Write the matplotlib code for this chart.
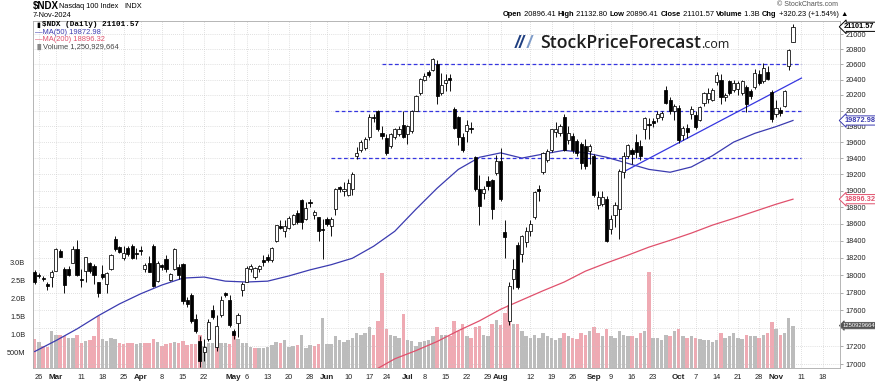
import matplotlib
matplotlib.use("Agg")
import matplotlib.pyplot as plt
import pandas as pd

plt.rcParams['font.family'] = ['Liberation Sans', 'DejaVu Sans']

W, H = 875, 385

# trading days shown (Feb 23 .. Nov 7 plus blank future days)
holidays = pd.to_datetime(['2024-03-29', '2024-05-27', '2024-06-19', '2024-07-04', '2024-09-02'])
days = pd.bdate_range('2024-02-23', '2024-11-29')
days = days[~days.isin(holidays)]

prev_close = 17937

opens = [
    18040, 18000, 17965, 17895, 17975,  # Feb
    18050, 18280, 18075, 18075, 18145, 18300, 17960, 18050, 18140, 18100, 17915, 18010, 17895, 18070, 18425, 18330, 18195, 18320, 18340, 18260,  # Mar
    18290, 18070, 18145, 18340, 17930, 18115, 18190, 17945, 18070, 18090, 18130, 17710, 17770, 17500, 17260, 17130, 17280, 17600, 17185, 17540, 17790, 17710,  # Apr
    17370, 17460, 17830, 17925, 18070, 17975, 18075, 18170, 18215, 18175, 18400, 18570, 18510, 18555, 18600, 18730, 18890, 18655, 18860, 18700, 18680, 18540,  # May
    18655, 18575, 18775, 19050, 18995, 18950, 19015, 19430, 19500, 19520, 19660, 19920, 19990, 19720, 19650, 19550, 19670, 19700, 19810,  # Jun
    19700, 19740, 20000, 20220, 20400, 20500, 20530, 20600, 20220, 20360, 20420, 20020, 19920, 19670, 19740, 19780, 19410, 19015, 18970, 19120, 19130, 19210,  # Jul
    19370, 18500, 17480, 17955, 18350, 18240, 18380, 18520, 18680, 19020, 19230, 19380, 19500, 19730, 19720, 19920, 19620, 19680, 19610, 19570, 19550, 19490,  # Aug
    19430, 18820, 18840, 18895, 18540, 18700, 18780, 19230, 19420, 19500, 19600, 19550, 19770, 19830, 19860, 19910, 19920, 20270, 20140, 19990,  # Sep
    20030, 19690, 19780, 19960, 19940, 19880, 20100, 20150, 20140, 20370, 20390, 20180, 20380, 20260, 20280, 20220, 20310, 20250, 20300, 20470, 20380, 20500, 20240,  # Oct
    19960, 20010, 20060, 20580, 20896.41,  # Nov
]
highs = [
    18060, 18020, 17990, 17925, 18060,
    18320, 18300, 18090, 18105, 18340, 18405, 18070, 18215, 18155, 18125, 17925, 18115, 18030, 18245, 18455, 18340, 18340, 18340, 18360, 18320,
    18340, 18140, 18225, 18360, 18160, 18130, 18230, 18020, 18320, 18130, 18140, 17750, 17800, 17560, 17310, 17280, 17500, 17660, 17540, 17760, 17810, 17770,
    17390, 17570, 17915, 18110, 18130, 18090, 18115, 18230, 18240, 18330, 18590, 18650, 18640, 18690, 18720, 18760, 18900, 18860, 18900, 18760, 18680, 18655,
    18680, 18680, 19030, 19060, 19100, 19140, 19230, 19540, 19620, 19660, 19960, 19960, 20010, 19800, 19700, 19720, 19780, 19800, 20000,
    19820, 20010, 20200, 20420, 20480, 20530, 20690, 20660, 20480, 20470, 20470, 20050, 19930, 19720, 19880, 19850, 19430, 19190, 19060, 19180, 19140, 19440,
    19525, 18640, 17920, 18185, 18380, 18470, 18560, 18650, 18990, 19070, 19470, 19510, 19770, 19850, 19830, 19950, 19800, 19720, 19640, 19600, 19640, 19580,
    19450, 18990, 18990, 18930, 18700, 18860, 19260, 19470, 19580, 19520, 19700, 19630, 19920, 19900, 19900, 19990, 20000, 20320, 20170, 20090,
    20070, 19800, 19830, 20060, 20000, 20060, 20240, 20290, 20290, 20500, 20470, 20230, 20400, 20400, 20380, 20400, 20330, 20280, 20540, 20520, 20620, 20580, 20260,
    20140, 20040, 20270, 20810, 21132.80,
]
lows = [
    17900, 17970, 17935, 17830, 17860,
    18050, 18205, 17795, 17990, 18140, 17990, 17860, 17920, 18025, 17895, 17750, 17955, 17795, 18060, 18280, 18260, 18175, 18225, 18185, 18185,
    18230, 18030, 18030, 17860, 17920, 18060, 18030, 17930, 18060, 17950, 17670, 17640, 17460, 17340, 16970, 17040, 17260, 17500, 17150, 17520, 17745, 17410,
    17280, 17300, 17760, 17915, 18040, 17950, 18040, 18110, 18150, 18150, 18390, 18540, 18440, 18540, 18590, 18600, 18535, 18640, 18800, 18660, 18400, 18185,
    18580, 18460, 18710, 18980, 18930, 18940, 18950, 19390, 19470, 19500, 19630, 19850, 19740, 19640, 19440, 19520, 19640, 19680, 19650,
    19580, 19720, 19990, 20200, 20380, 20430, 20510, 20090, 20200, 20250, 20250, 19770, 19560, 19480, 19600, 19720, 19000, 18590, 18900, 19010, 18655, 19190,
    18870, 18200, 17430, 17840, 17840, 18150, 18330, 18460, 18660, 18880, 19200, 19350, 19480, 19660, 19680, 19490, 19580, 19460, 19420, 19260, 19270, 19330,
    18920, 18780, 18810, 18380, 18480, 18560, 18420, 19150, 19400, 19330, 19400, 19380, 19640, 19640, 19790, 19850, 19880, 20080, 19960, 19880,
    19590, 19620, 19650, 19890, 19770, 19860, 20060, 20100, 20120, 20330, 20080, 20120, 20200, 20240, 20200, 20200, 19980, 20150, 20280, 20330, 20350, 20390, 19850,
    19920, 19930, 20040, 20520, 20896.41,
]
closes = [
    17920, 17985, 17955, 17875, 18040,
    18300, 18215, 17890, 18000, 18300, 18000, 17945, 18205, 18050, 18000, 17800, 17975, 18020, 18230, 18300, 18270, 18260, 18245, 18195, 18245,
    18275, 18115, 18040, 17870, 18140, 18095, 18070, 18010, 18300, 17995, 17700, 17670, 17480, 17370, 17040, 17190, 17470, 17525, 17420, 17710, 17770, 17430,
    17320, 17540, 17900, 18080, 18100, 18080, 18105, 18150, 18175, 18320, 18585, 18550, 18575, 18670, 18710, 18620, 18620, 18795, 18845, 18740, 18520, 18525,
    18600, 18655, 19015, 19015, 19015, 19090, 19200, 19465, 19600, 19640, 19920, 19900, 19760, 19680, 19460, 19700, 19760, 19770, 19660,
    19800, 20000, 20190, 20410, 20450, 20460, 20670, 20190, 20330, 20400, 20390, 19780, 19670, 19500, 19820, 19760, 19015, 18810, 19015, 19060, 18775, 19370,
    18895, 18440, 17870, 18070, 17860, 18450, 18520, 18600, 18980, 19000, 19460, 19490, 19760, 19770, 19800, 19500, 19710, 19500, 19460, 19340, 19300, 19550,
    18950, 18920, 18920, 18400, 18660, 18830, 19240, 19430, 19560, 19450, 19470, 19420, 19900, 19810, 19845, 19950, 19970, 20100, 19990, 20060,
    19630, 19780, 19730, 20020, 19790, 20050, 20230, 20230, 20270, 20460, 20170, 20200, 20220, 20360, 20360, 20380, 20080, 20190, 20480, 20360, 20550, 20410, 19890,
    20030, 19970, 20250, 20790, 21101.57,
]
# volume in billions of shares
volumes = [
    0.89, 0.80, 0.69, 0.65, 1.10,
    1.00, 1.00, 0.96, 0.92, 0.92, 1.00, 0.78, 0.82, 0.84, 0.96, 1.52, 0.87, 0.82, 0.92, 0.89, 0.78, 0.74, 0.78, 0.76, 0.74,
    0.78, 0.76, 0.78, 0.89, 0.80, 0.69, 0.74, 0.78, 0.80, 0.78, 0.82, 0.71, 0.74, 0.74, 1.00, 0.69, 0.78, 0.78, 1.00, 0.78, 0.78, 0.74,
    1.05, 0.87, 0.78, 0.76, 0.66, 0.62, 0.62, 0.64, 0.67, 0.71, 0.80, 0.78, 0.85, 0.65, 0.68, 0.72, 1.00, 0.62, 0.72, 0.70, 0.75, 1.47,
    0.75, 0.75, 0.95, 0.85, 0.80, 0.85, 0.90, 1.05, 1.00, 1.05, 1.20, 1.00, 1.37, 2.69, 1.16, 0.98, 0.95, 0.92, 1.56,
    0.85, 0.82, 0.70, 0.80, 0.82, 0.85, 0.95, 1.20, 1.00, 0.98, 0.95, 1.37, 1.10, 1.30, 0.95, 0.90, 1.20, 1.23, 1.00, 0.95, 1.30, 1.40,
    1.27, 1.60, 1.83, 1.30, 1.30, 1.10, 0.95, 0.90, 1.00, 0.90, 1.05, 0.95, 0.90, 0.85, 0.90, 1.05, 0.95, 0.90, 0.88, 1.05, 1.00, 1.10,
    1.20, 1.05, 0.95, 1.15, 0.95, 0.90, 1.10, 1.00, 0.95, 0.95, 0.90, 1.05, 1.10, 2.74, 0.90, 0.92, 0.85, 1.00, 0.95, 1.10,
    1.15, 0.95, 0.90, 0.95, 0.90, 0.88, 0.85, 0.85, 0.80, 0.85, 1.05, 0.90, 0.95, 1.05, 0.90, 0.88, 1.00, 0.95, 0.95, 0.90, 1.00, 1.05, 1.35,
    1.15, 1.00, 1.05, 1.45, 1.25,
]

ma50_idx = [0, 5, 10, 15, 20, 25, 30, 35, 40, 45, 50, 55, 60, 65, 70, 75, 80, 85, 90, 95, 100,
            105, 110, 115, 120, 125, 130, 135, 140, 145, 150, 155, 160, 165, 170, 175, 179]
ma50 = [17140, 17260, 17390, 17537, 17670, 17785, 17885, 17965, 17977, 17930, 17920, 17930, 17990,
        18060, 18120, 18195, 18335, 18512, 18775, 19030, 19260, 19410, 19465, 19400, 19450, 19497,
        19465, 19410, 19335, 19260, 19225, 19290, 19430, 19600, 19710, 19795, 19872.98]
ma200_idx = [78, 80, 85, 90, 95, 100, 105, 110, 115, 120, 125, 130, 135, 140, 145, 150, 155,
             160, 165, 170, 175, 179]
ma200 = [16900, 16930, 17060, 17150, 17250, 17370, 17480, 17610, 17715, 17820, 17920, 18045, 18140,
         18230, 18325, 18405, 18490, 18585, 18665, 18750, 18835, 18896.32]

levels = [20600, 20000, 19400]
level_start = [82, 71, 70]
level_end = 181
trend_idx = [139, 181]
trend_val = [19230, 20420]

price_ticks = list(range(17000, 21001, 200))
hidden_tick = 17400  # covered by the volume tag
vol_ticks = [0.5, 1.0, 1.5, 2.0, 2.5, 3.0]
vol_labels = ['500M', '1.0B', '1.5B', '2.0B', '2.5B', '3.0B']

x_ticks = [('2024-02-26', '26'), ('2024-03-01', 'Mar'), ('2024-03-11', '11'), ('2024-03-18', '18'),
           ('2024-03-25', '25'), ('2024-04-01', 'Apr'), ('2024-04-08', '8'), ('2024-04-15', '15'),
           ('2024-04-22', '22'), ('2024-05-01', 'May'), ('2024-05-06', '6'), ('2024-05-13', '13'),
           ('2024-05-20', '20'), ('2024-05-28', '28'), ('2024-06-03', 'Jun'), ('2024-06-10', '10'),
           ('2024-06-17', '17'), ('2024-06-24', '24'), ('2024-07-01', 'Jul'), ('2024-07-08', '8'),
           ('2024-07-15', '15'), ('2024-07-22', '22'), ('2024-07-29', '29'), ('2024-08-01', 'Aug'),
           ('2024-08-12', '12'), ('2024-08-19', '19'), ('2024-08-26', '26'), ('2024-09-03', 'Sep'),
           ('2024-09-09', '9'), ('2024-09-16', '16'), ('2024-09-23', '23'), ('2024-10-01', 'Oct'),
           ('2024-10-07', '7'), ('2024-10-14', '14'), ('2024-10-21', '21'), ('2024-10-28', '28'),
           ('2024-11-01', 'Nov'), ('2024-11-11', '11'), ('2024-11-18', '18')]

BLUE = '#3b3bb0'
RED = '#e0506c'
DASH = '#3636e0'

fig = plt.figure(figsize=(W / 100, H / 100), dpi=100)
rect = [33 / W, 1 - 368 / H, (840 - 33) / W, (368 - 21) / H]
axv = fig.add_axes(rect)
ax = fig.add_axes(rect, sharex=axv)
ax.patch.set_visible(False)

n = len(closes)
xs = list(range(n))
pos = {d.strftime('%Y-%m-%d'): i for i, d in enumerate(days)}

# volume
prev = [prev_close] + closes[:-1]
vcol = ['#efaab3' if c < p else '#bcbcbc' for c, p in zip(closes, prev)]
axv.bar(xs, volumes, width=0.82, color=vcol, linewidth=0)
axv.set_ylim(0.08, 9.65)
axv.set_yticks(vol_ticks)
axv.set_yticklabels(vol_labels)
axv.tick_params(axis='y', left=False, labelsize=5.3, pad=2, colors='#222222')
axv.tick_params(axis='x', bottom=False, labelbottom=False)
for s in axv.spines.values():
    s.set_visible(False)

# price
ax.set_yscale('log')
ax.vlines(xs, lows, highs, color='black', lw=0.65, zorder=3)
bot = [min(o, c) for o, c in zip(opens, closes)]
hgt = [max(abs(c - o), 4) for o, c in zip(opens, closes)]
fc = ['white' if c >= o else 'black' for o, c in zip(opens, closes)]
ax.bar(xs, hgt, bottom=bot, width=0.74, color=fc, edgecolor='black', linewidth=0.55, zorder=4)

ax.plot(ma50_idx, ma50, color=BLUE, lw=0.9, zorder=2)
ax.plot(ma200_idx, ma200, color=RED, lw=0.9, zorder=2)
for lv, st in zip(levels, level_start):
    ax.hlines(lv, st, level_end, color=DASH, lw=0.9, linestyles=(0, (3, 2)), zorder=2)
ax.plot(trend_idx, trend_val, color=DASH, lw=0.9, zorder=2)

ax.set_xlim(-0.4, 190.1)
ax.set_ylim(16960, 21180)
ax.yaxis.tick_right()
ax.set_yticks(price_ticks)
ax.set_yticklabels(['' if t == hidden_tick else str(t) for t in price_ticks])
ax.yaxis.set_minor_locator(matplotlib.ticker.NullLocator())
ax.tick_params(axis='y', length=2, width=0.5, color='#888888', labelsize=5.3, pad=2)
for lab in ax.get_yticklabels():
    lab.set_color('#222222')

xt = [pos[d] for d, _ in x_ticks]
ax.set_xticks(xt)
ax.set_xticklabels([l for _, l in x_ticks])
ax.tick_params(axis='x', length=0, labelsize=5.3, pad=4, colors='#222222')
for lab, (_, l) in zip(ax.get_xticklabels(), x_ticks):
    if not l.isdigit():
        lab.set_fontweight('bold')
        lab.set_fontsize(5.8)

ax.grid(True, color='#c4c4c4', lw=0.5, linestyle=(0, (1, 2)))
for s in ax.spines.values():
    s.set_color('#aaaaaa')
    s.set_linewidth(0.6)

# value tags on the right axis
tag = dict(xycoords=('axes fraction', 'data'), xytext=(3, 0), textcoords='offset points',
           va='center', ha='left', fontsize=5.3, fontweight='bold', annotation_clip=False)
ax.annotate(f'{closes[-1]:.2f}', xy=(1.0, closes[-1]), color='black',
            bbox=dict(boxstyle='larrow,pad=0.15', fc='white', ec='black', lw=0.7), **tag)
ax.annotate(f'{ma50[-1]:.2f}', xy=(1.0, ma50[-1]), color=BLUE,
            bbox=dict(boxstyle='larrow,pad=0.15', fc='white', ec=BLUE, lw=0.7), **tag)
ax.annotate(f'{ma200[-1]:.2f}', xy=(1.0, ma200[-1]), color=RED,
            bbox=dict(boxstyle='larrow,pad=0.15', fc='white', ec=RED, lw=0.7), **tag)
axv.annotate('1250929664', xy=(1.0, volumes[-1]), xycoords=('axes fraction', 'data'),
             xytext=(2, 0), textcoords='offset points', va='center', ha='left', fontsize=4.2,
             color='white', bbox=dict(boxstyle='larrow,pad=0.12', fc='#555555', ec='#555555', lw=0.6),
             annotation_clip=False)


def ptxt(x, y, s, **kw):
    return fig.text(x / W, 1 - y / H, s, va='center', **kw)


# header
ptxt(33, 6.5, '$NDX', fontsize=7, fontweight='bold')
ptxt(59, 7, 'Nasdaq 100 Index', fontsize=5.3)
ptxt(124, 7, 'INDX', fontsize=5.3)
ptxt(33, 15.5, '7-Nov-2024', fontsize=5.3)
ptxt(838, 5, '\u00a9 StockCharts.com', fontsize=5, color='#555555', ha='right')

parts = [('Open', True), (' 20896.41 ', False), ('High', True), (' 21132.80 ', False),
         ('Low', True), (' 20896.41 ', False), ('Close', True), (' 21101.57 ', False),
         ('Volume', True), (' 1.3B ', False), ('Chg', True), (' +320.23 (+1.54%) \u25b2', False)]
fig.canvas.draw()
rend = fig.canvas.get_renderer()
items = []
total = 0
for s, b in parts:
    t = ptxt(0, 15, s, fontsize=5.4, fontweight='bold' if b else 'normal')
    w = t.get_window_extent(rend).width
    items.append((t, w))
    total += w
x0 = 848 - total
for t, w in items:
    t.set_position((x0 / W, 1 - 15 / H))
    x0 += w

# legend inside plot
ptxt(36, 25, '\u25ae', fontsize=5, color='black', family='DejaVu Sans')
ptxt(42, 25, '$NDX (Daily) 21101.57', fontsize=5.5, fontweight='bold', family=['Liberation Mono', 'DejaVu Sans Mono'])
ptxt(35, 32.3, '\u2014MA(50) 19872.98', fontsize=5.4, color=BLUE)
ptxt(35, 39.5, '\u2014MA(200) 18896.32', fontsize=5.4, color=RED)
ptxt(35, 47, '\u2590\u258c', fontsize=4.5, color='#888888', family='DejaVu Sans')
ptxt(43, 47, 'Volume 1,250,929,664', fontsize=5.4, color='#444444')

# logo
ptxt(515, 43, '//', fontsize=13, fontweight='bold', style='italic', color='#1f3f80')
ptxt(527, 43, '/', fontsize=13, fontweight='bold', style='italic', color='#7f9cc8')
lg = ptxt(540, 43, 'StockPriceForecast', fontsize=13, color='#1e1e1e', fontweight='semibold',
          family=['Open Sans', 'DejaVu Sans'])
lw_ = lg.get_window_extent(rend).width
lg.set_fontsize(13 * 160 / lw_)
ptxt(701, 45, '.com', fontsize=9, color='#1e1e1e', family=['Open Sans', 'DejaVu Sans'])

fig.savefig('out.png', dpi=100)
